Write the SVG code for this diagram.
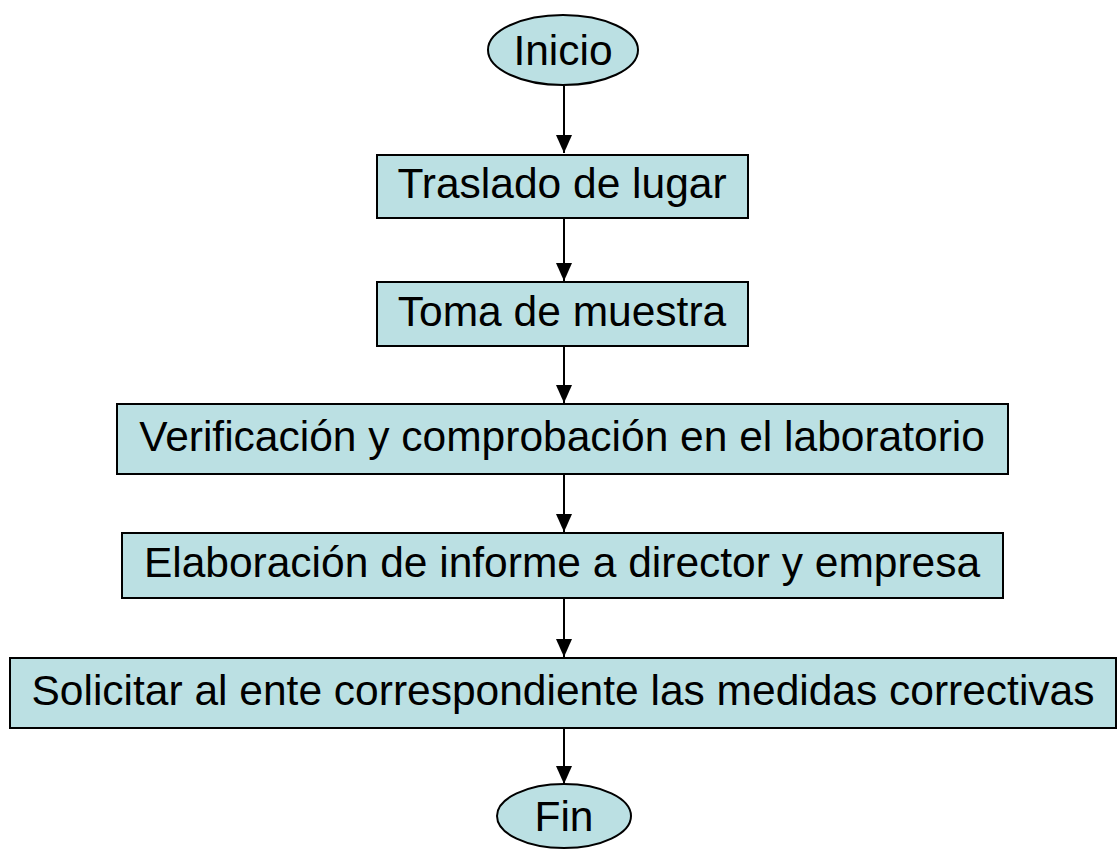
<svg xmlns="http://www.w3.org/2000/svg" width="1119" height="850" viewBox="0 0 1119 850">
<style>
.n{fill:#BBE0E3;stroke:#000;stroke-width:2}
.t{font-family:"Liberation Sans",Arial,sans-serif;font-size:42.5px;fill:#000;text-anchor:middle}
.c{stroke:#000;stroke-width:2;fill:none}
</style>
<defs>
<marker id="a" markerUnits="userSpaceOnUse" markerWidth="18" markerHeight="18" refX="18" refY="8" orient="auto" viewBox="0 0 18 16">
<path d="M0,0 L18,8 L0,16 Z" fill="#000"/>
</marker>
</defs>
<rect width="1119" height="850" fill="#fff"/>
<g id="connectors">
<line class="c" x1="564" y1="86" x2="564" y2="153" marker-end="url(#a)"/>
<line class="c" x1="564" y1="219" x2="564" y2="281" marker-end="url(#a)"/>
<line class="c" x1="564" y1="347" x2="564" y2="403" marker-end="url(#a)"/>
<line class="c" x1="564" y1="475" x2="564" y2="532" marker-end="url(#a)"/>
<line class="c" x1="564" y1="599" x2="564" y2="657" marker-end="url(#a)"/>
<line class="c" x1="564" y1="729" x2="564" y2="784" marker-end="url(#a)"/>
</g>
<g id="inicio">
<ellipse class="n" cx="563" cy="50" rx="75" ry="35"/>
<text class="t" x="563" y="65">Inicio</text>
</g>
<g id="traslado">
<rect class="n" x="377" y="155" width="371" height="63"/>
<text class="t" x="562" y="198">Traslado de lugar</text>
</g>
<g id="toma">
<rect class="n" x="377" y="282" width="371" height="64"/>
<text class="t" x="562" y="326">Toma de muestra</text>
</g>
<g id="verificacion">
<rect class="n" x="117" y="404" width="891" height="70"/>
<text class="t" x="562" y="451">Verificación y comprobación en el laboratorio</text>
</g>
<g id="elaboracion">
<rect class="n" x="122" y="533" width="881" height="65"/>
<text class="t" x="562" y="577">Elaboración de informe a director y empresa</text>
</g>
<g id="solicitar">
<rect class="n" x="10" y="658" width="1106" height="70"/>
<text class="t" x="563" y="705">Solicitar al ente correspondiente las medidas correctivas</text>
</g>
<g id="fin">
<ellipse class="n" cx="564" cy="816" rx="67" ry="32"/>
<text class="t" x="564" y="831">Fin</text>
</g>
</svg>
